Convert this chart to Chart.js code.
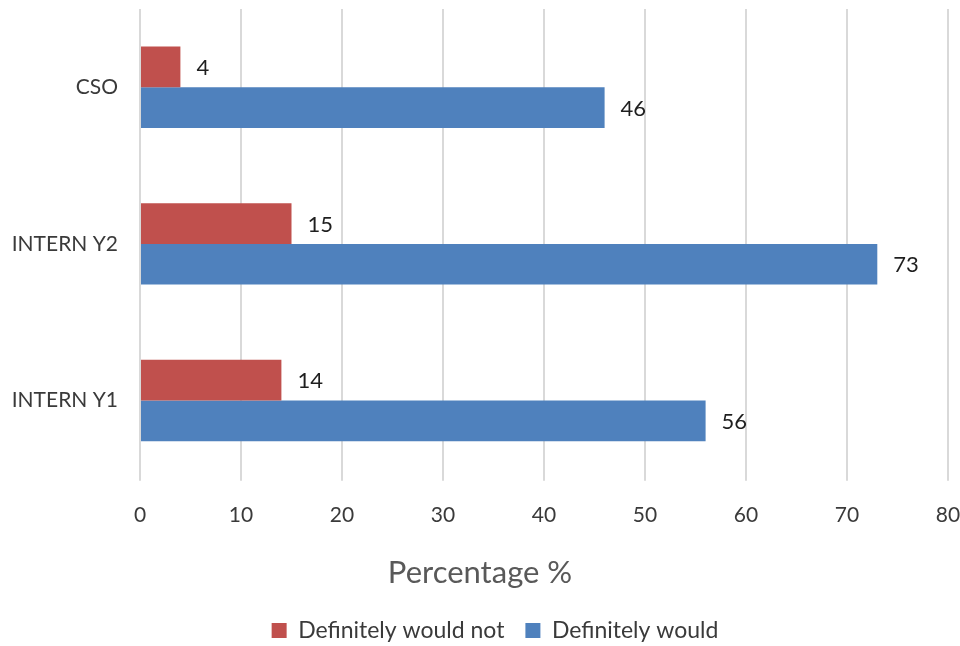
<!DOCTYPE html>
<html>
<head>
<meta charset="utf-8">
<title>Percentage</title>
<script src="https://cdn.jsdelivr.net/npm/chart.js@4.4.1/dist/chart.umd.min.js"></script>
<style>
  html, body { margin: 0; padding: 0; background: #fff; }
  #contenedor { width: 960px; height: 646px; position: relative; }
</style>
</head>
<body>
<div id="contenedor"><canvas id="grafico"></canvas></div>
<script>
// Datos del gráfico
const categorias = ['CSO', 'INTERN Y2', 'INTERN Y1'];
const noDefinitivamente = [4, 15, 14];
const siDefinitivamente = [46, 73, 56];
const series = ['Definitely would not', 'Definitely would'];
const ejeMin = 0;
const ejeMax = 80;
const ejePaso = 10;

const fuente = 'Lato, "Open Sans", sans-serif';

// Escribe el valor al final de cada barra
const etiquetasValor = {
    id: 'etiquetasValor',
    afterDatasetsDraw(chart) {
        const ctx = chart.ctx;
        ctx.save();
        ctx.font = '22px ' + fuente;
        ctx.fillStyle = '#1e1e1e';
        ctx.textBaseline = 'middle';
        ctx.textAlign = 'left';
        chart.data.datasets.forEach((ds, i) => {
            chart.getDatasetMeta(i).data.forEach((barra, j) => {
                ctx.fillText(ds.data[j], barra.x + 16, barra.y + 1);
            });
        });
        ctx.restore();
    }
};

// Corre un poco la leyenda hacia la derecha y hacia abajo
const moverLeyenda = {
    id: 'moverLeyenda',
    afterLayout(chart) {
        const ley = chart.legend;
        ley.left += 15;
        ley.right += 15;
        ley.top += 6;
        ley.bottom += 6;
    }
};

const ctx = document.getElementById('grafico').getContext('2d');
const grafico = new Chart(ctx, {
    type: 'bar',
    data: {
        labels: categorias,
        datasets: [{
            label: series[0],
            data: noDefinitivamente,
            backgroundColor: '#c0504d',
            categoryPercentage: 0.52,
            barPercentage: 1
        }, {
            label: series[1],
            data: siDefinitivamente,
            backgroundColor: '#4f81bd',
            categoryPercentage: 0.52,
            barPercentage: 1
        }]
    },
    options: {
        indexAxis: 'y',
        responsive: true,
        maintainAspectRatio: false,
        animation: false,
        layout: { padding: { top: 9, right: 0, left: 0, bottom: 0 } },
        scales: {
            x: {
                min: ejeMin,
                max: ejeMax,
                ticks: {
                    stepSize: ejePaso,
                    padding: 22,
                    color: '#3a3a3a',
                    font: { family: fuente, size: 21 }
                },
                grid: {
                    color: '#d9d9d9',
                    lineWidth: 2,
                    tickLength: 2
                },
                border: { display: false },
                afterFit(escala) {
                    escala.height = 67;
                    escala.paddingLeft = 0;
                    escala.paddingRight = 12;
                }
            },
            y: {
                ticks: {
                    padding: 14,
                    color: '#3a3a3a',
                    font: { family: fuente, size: 21 }
                },
                grid: { display: false },
                border: { display: false },
                afterFit(escala) {
                    escala.width = 140;
                    escala.paddingTop = 0;
                    escala.paddingBottom = 0;
                }
            }
        },
        plugins: {
            // título del eje x, centrado en todo el ancho
            title: {
                display: true,
                position: 'bottom',
                weight: 500,
                text: 'Percentage %',
                color: '#595959',
                font: { family: fuente, size: 31, weight: 'normal' },
                padding: { top: 9, bottom: 0 }
            },
            legend: {
                position: 'bottom',
                labels: {
                    boxWidth: 15,
                    boxHeight: 15,
                    padding: 21,
                    color: '#3a3a3a',
                    font: { family: fuente, size: 23 }
                }
            },
            tooltip: { enabled: false }
        }
    },
    plugins: [etiquetasValor, moverLeyenda]
});
</script>
</body>
</html>
